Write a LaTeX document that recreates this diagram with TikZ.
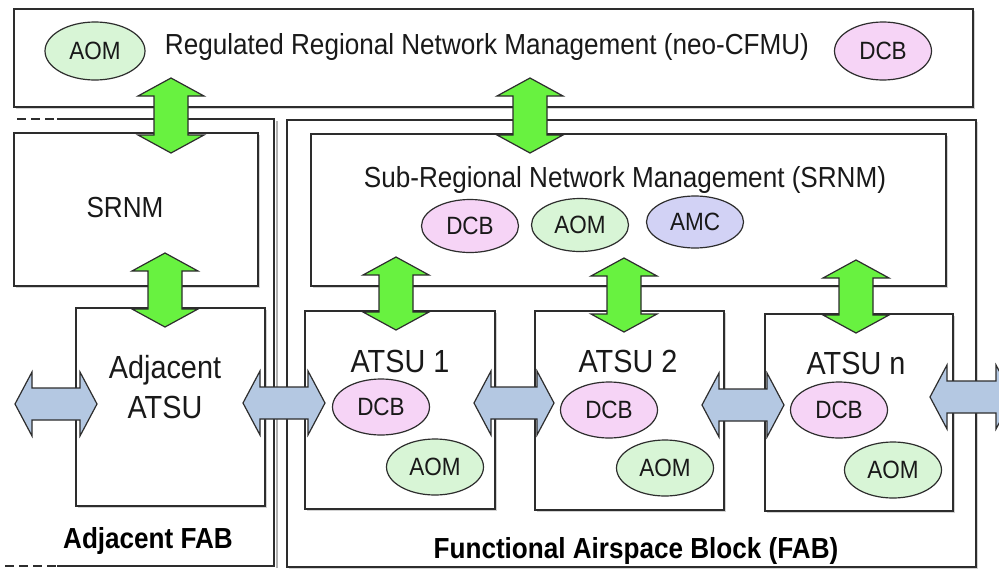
\documentclass[tikz,border=0pt]{standalone}
\usepackage{fontspec}
\setmainfont{Liberation Sans}[FakeStretch=0.9]
\usetikzlibrary{shadows,calc,shapes.geometric}
\definecolor{garr}{RGB}{104,242,64}
\definecolor{barr}{RGB}{180,200,226}
\definecolor{edge}{RGB}{45,45,45}
\definecolor{txt}{RGB}{25,25,25}
\definecolor{dcbc}{RGB}{246,212,246}
\definecolor{aomc}{RGB}{216,245,214}
\definecolor{amcc}{RGB}{210,210,245}
\newcommand{\vgarrow}[2]{%
  \draw[garrowst] let \p1=(#1), \p2=(#2) in
    (\x1,\y1) -- (\x1+33pt,\y1-18pt) -- (\x1+17pt,\y1-18pt) -- (\x1+17pt,\y2+18pt)
    -- (\x1+33pt,\y2+18pt) -- (\x1,\y2) -- (\x1-33pt,\y2+18pt) -- (\x1-17pt,\y2+18pt)
    -- (\x1-17pt,\y1-18pt) -- (\x1-33pt,\y1-18pt) -- cycle;}
\newcommand{\hbarrow}[2]{%
  \draw[barrowst] let \p1=(#1), \p2=(#2) in
    (\x1,\y1) -- (\x1+17pt,\y1+32pt) -- (\x1+17pt,\y1+16pt) -- (\x2-17pt,\y1+16pt)
    -- (\x2-17pt,\y1+32pt) -- (\x2,\y1) -- (\x2-17pt,\y1-32pt) -- (\x2-17pt,\y1-16pt)
    -- (\x1+17pt,\y1-16pt) -- (\x1+17pt,\y1-32pt) -- cycle;}
\begin{document}
\begin{tikzpicture}[x=1pt,y=-1pt,
  box/.style={draw=edge,line width=1.5pt,fill=white,inner sep=0pt,anchor=north west,
    drop shadow={shadow xshift=2.5pt,shadow yshift=-2.5pt,opacity=0.35}},
  ell/.style={ellipse,draw=edge,line width=1.2pt,minimum width=97pt,minimum height=56pt,
    inner sep=0pt,text=txt,font=\fontsize{25}{28}\selectfont},
  dcb/.style={ell,fill=dcbc},
  aom/.style={ell,fill=aomc},
  amc/.style={ell,fill=amcc},
  lbl/.style={anchor=base,text=txt,inner sep=0pt,font=\fontsize{29}{34}\selectfont},
  big/.style={anchor=base,text=txt,inner sep=0pt,font=\fontsize{32}{38}\selectfont},
  bold/.style={anchor=base,text=black,inner sep=0pt,font=\fontsize{29}{34}\selectfont\bfseries},
  garrowst/.style={draw=edge,fill=garr,line width=1.2pt,line join=miter},
  barrowst/.style={draw=edge,fill=barr,line width=1.2pt,line join=miter},
  frameline/.style={draw=edge,line width=1.5pt}]
\clip (0,0) rectangle (999,568);
\fill[white] (0,0) rectangle (999,568);

% outer frames
\draw[gray!60,line width=2pt] (276.5,121) -- (276.5,568);
\draw[frameline] (57,119) -- (274,119) -- (274,566) -- (57,566);
\draw[frameline,dash pattern=on 9pt off 5pt] (17,119) -- (57,119);
\draw[frameline,dash pattern=on 9pt off 5pt] (5,566) -- (57,566);
\node[box,minimum width=689pt,minimum height=447pt] (fab) at (286,119) {};

% boxes
\node[box,minimum width=959pt,minimum height=98pt] (top) at (13,8) {};
\node[box,minimum width=244pt,minimum height=153pt] (srnmL) at (13,132) {};
\node[box,minimum width=189pt,minimum height=198pt] (adj) at (75,307) {};
\node[box,minimum width=635pt,minimum height=152pt] (srnm) at (310,133) {};
\node[box,minimum width=190pt,minimum height=198pt] (atsu1) at (304,310) {};
\node[box,minimum width=189pt,minimum height=199pt] (atsu2) at (534,310) {};
\node[box,minimum width=188pt,minimum height=197pt] (atsun) at (764,313) {};

% texts
\node[lbl] (ttop) at (487,54) {Regulated Regional Network Management (neo-CFMU)};
\node[lbl] (tsrnm) at (625,187) {Sub-Regional Network Management (SRNM)};
\node[lbl] (tsrnmL) at (125,217) {SRNM};
\node[big] (tadj1) at (165,378) {Adjacent};
\node[big] (tadj2) at (165,418) {ATSU};
\node[big] (tatsu1) at (400,372) {ATSU 1};
\node[big] (tatsu2) at (628,372) {ATSU 2};
\node[big] (tatsun) at (856,374) {ATSU n};
\node[bold] (tadjfab) at (148,548) {Adjacent FAB};
\node[bold] (tfab) at (636,558) {Functional Airspace Block (FAB)};

% ellipses
\node[aom,minimum width=100pt,minimum height=58pt] (aomT) at (95,51) {AOM};
\node[dcb,minimum width=97pt,minimum height=58pt] (dcbT) at (883,51) {DCB};
\node[dcb,minimum height=53pt] (dcbS) at (470,226) {DCB};
\node[aom,minimum height=53pt] (aomS) at (580,225) {AOM};
\node[amc,minimum height=52pt] (amcS) at (695,222) {AMC};
\node[dcb] (dcb1) at (381,407) {DCB};
\node[aom] (aom1) at (435,467) {AOM};
\node[dcb] (dcb2) at (609,410) {DCB};
\node[aom] (aom2) at (665,468) {AOM};
\node[dcb] (dcbn) at (839,410) {DCB};
\node[aom] (aomn) at (893,470) {AOM};

% green arrow end points
\coordinate (g1a) at (171,78);  \coordinate (g1b) at (171,153);
\coordinate (g2a) at (530,78);  \coordinate (g2b) at (530,153);
\coordinate (g3a) at (165,253); \coordinate (g3b) at (165,327);
\coordinate (g4a) at (396,257); \coordinate (g4b) at (396,330);
\coordinate (g5a) at (624,258); \coordinate (g5b) at (624,332);
\coordinate (g6a) at (856,260); \coordinate (g6b) at (856,333);
\vgarrow{g1a}{g1b}
\vgarrow{g2a}{g2b}
\vgarrow{g3a}{g3b}
\vgarrow{g4a}{g4b}
\vgarrow{g5a}{g5b}
\vgarrow{g6a}{g6b}

% blue arrow end points
\coordinate (b1a) at (15,404);  \coordinate (b1b) at (97,404);
\coordinate (b2a) at (243,403); \coordinate (b2b) at (325,403);
\coordinate (b3a) at (474,403); \coordinate (b3b) at (554,403);
\coordinate (b4a) at (702,405); \coordinate (b4b) at (784,405);
\coordinate (b5a) at (930,397); \coordinate (b5b) at (1013,397);
\hbarrow{b1a}{b1b}
\hbarrow{b2a}{b2b}
\hbarrow{b3a}{b3b}
\hbarrow{b4a}{b4b}
\hbarrow{b5a}{b5b}
\end{tikzpicture}
\end{document}
